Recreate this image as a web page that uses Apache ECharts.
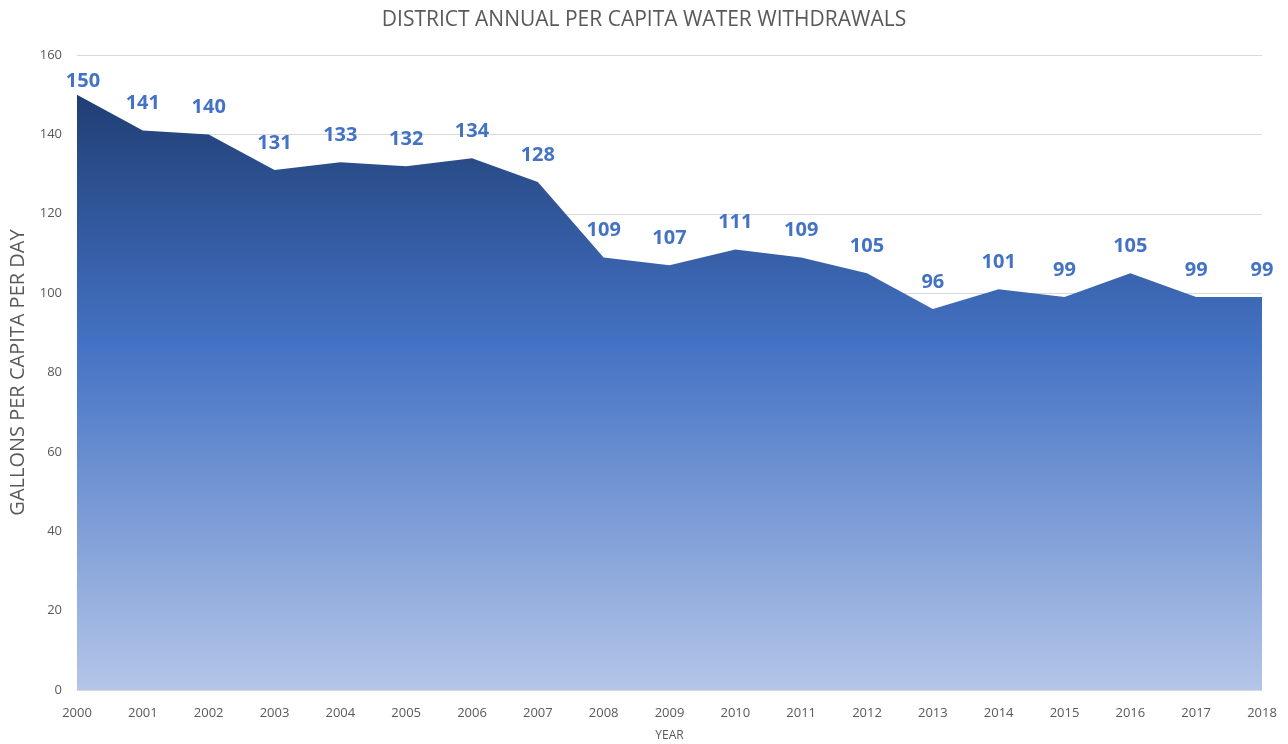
<!DOCTYPE html>
<html><head><meta charset="utf-8">
<script src="https://cdn.jsdelivr.net/npm/echarts@6/dist/echarts.min.js"></script>
<style>html,body{margin:0;padding:0;background:#fff}#c{width:1288px;height:744px}</style>
</head><body><div id="c"></div>
<script>
const years = ['2000','2001','2002','2003','2004','2005','2006','2007','2008','2009','2010','2011','2012','2013','2014','2015','2016','2017','2018'];
const withdrawals = [150,141,140,131,133,132,134,128,109,107,111,109,105,96,101,99,105,99,99];
const yTicks = [0,20,40,60,80,100,120,140,160];

const seriesData = withdrawals.map(function(v,i){
  return i === 0 ? {value:v,label:{offset:[6,14]}} : v;
});

const chart = echarts.init(document.getElementById('c'));
chart.setOption({
  animation:false,
  title:{text:'DISTRICT ANNUAL PER CAPITA WATER WITHDRAWALS',left:'center',top:5,
    textStyle:{fontFamily:'Open Sans',fontWeight:'normal',fontSize:21,color:'#595959'}},
  grid:{left:77,right:26,top:55,bottom:54,outerBoundsMode:'none',containLabel:false},
  xAxis:{type:'category',data:years,boundaryGap:false,
    name:'YEAR',nameLocation:'middle',nameGap:40,
    nameTextStyle:{fontFamily:'Open Sans',fontSize:12,color:'#595959'},
    axisLine:{lineStyle:{color:'#d9d9d9'}},axisTick:{show:false},
    axisLabel:{fontFamily:'Open Sans',fontSize:13,color:'#595959',margin:17}},
  yAxis:{type:'value',min:yTicks[0],max:yTicks[yTicks.length-1],interval:20,
    name:'GALLONS PER CAPITA PER DAY',nameLocation:'middle',nameGap:49,
    nameTextStyle:{fontFamily:'Open Sans',fontSize:20,color:'#595959'},
    axisLine:{show:false},axisTick:{show:false},
    axisLabel:{fontFamily:'Open Sans',fontSize:13,color:'#595959',margin:15},
    splitLine:{lineStyle:{color:'#d9d9d9',width:1}}},
  series:[{type:'line',data:seriesData,symbol:'circle',symbolSize:2,showSymbol:true,
    itemStyle:{color:'rgba(0,0,0,0)',borderWidth:0},
    lineStyle:{width:0},
    areaStyle:{opacity:1,color:new echarts.graphic.LinearGradient(0,0,0,1,[
      {offset:0,color:'#203e74'},{offset:0.42,color:'#4472c4'},{offset:1,color:'#b4c6e8'}])},
    label:{show:true,position:'top',distance:16,fontFamily:'Open Sans',fontWeight:'bold',fontSize:20,color:'#4472c4'}
  }]
});
</script></body></html>
